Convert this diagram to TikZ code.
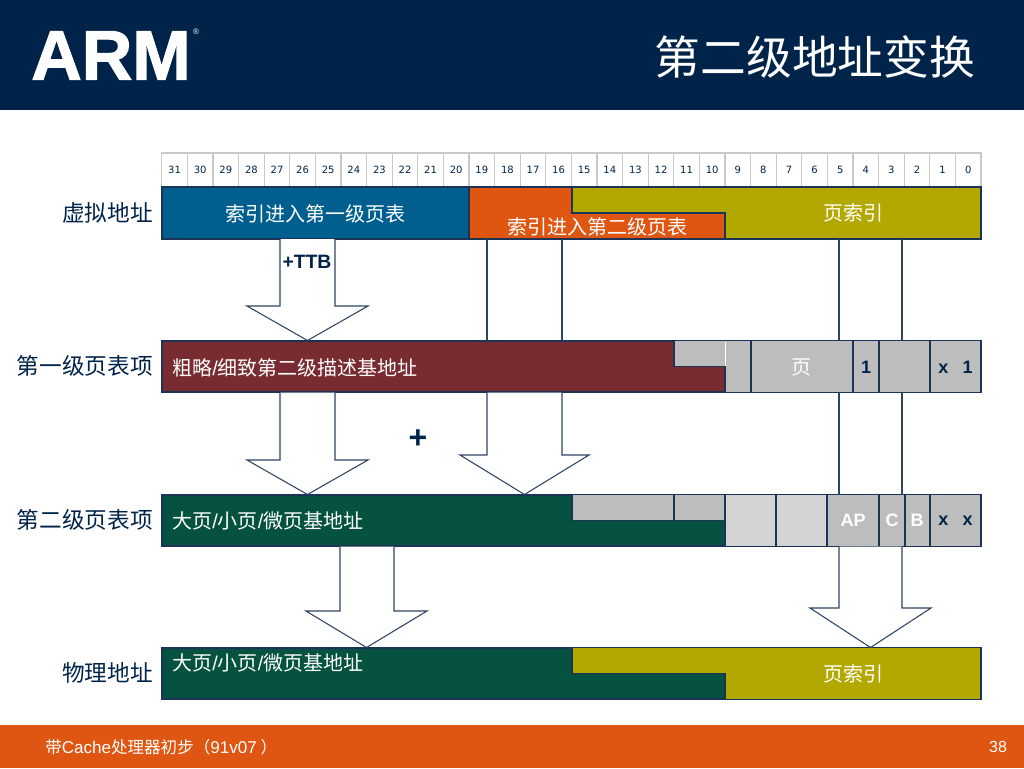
\documentclass[tikz,border=0pt]{standalone}
\usepackage{fontspec}
\setmainfont{Noto Sans CJK SC}
\newfontfamily\arialfont{Liberation Sans}
\newfontfamily\logofont[BoldFeatures={FakeBold=1.6}]{Liberation Sans}
\newfontfamily\bitfont{DejaVu Sans}
\usepackage{xcolor}
\definecolor{armnavy}{HTML}{00234A}
\definecolor{linenavy}{HTML}{1B3354}
\definecolor{thinnavy}{HTML}{2E4463}
\definecolor{armblue}{HTML}{005F8E}
\definecolor{armorange}{HTML}{DF5512}
\definecolor{armolive}{HTML}{B2A800}
\definecolor{armmaroon}{HTML}{782B30}
\definecolor{armgreen}{HTML}{04523F}
\definecolor{armgrey}{HTML}{BDBDBD}
\definecolor{armlight}{HTML}{D3D3D3}
\definecolor{cellgrey}{HTML}{C9C9C9}
\newcommand{\thinslash}{{\arialfont /}}
\tikzset{
    rowbar/.style={draw=linenavy, line width=0.9pt, minimum width=614.25pt, minimum height=39pt, inner sep=0pt, outer sep=0pt},
    fieldedge/.style={draw=linenavy, line width=0.9pt},
    fieldtext/.style={text=white, font=\fontsize{15}{17}\selectfont, inner sep=0pt},
    rowlabel/.style={text=armnavy, font=\fontsize{17}{19}\selectfont, anchor=east, inner sep=0pt},
    flagtext/.style={font=\arialfont\bfseries\fontsize{13.5}{15}\selectfont, inner sep=0pt},
    blockarrow/.style={draw=thinnavy, line width=0.8pt, fill=white, line join=miter},
}

\begin{document}
\begin{tikzpicture}[x=0.75pt, y=-0.75pt]
    \useasboundingbox (0,0) rectangle (1024,768);

    % --- HEADER AND FOOTER BANDS ---
    \fill[armnavy] (0,0) rectangle (1024,110);
    \fill[armorange] (0,725) rectangle (1024,768);
    \node[anchor=base west, inner sep=0pt, text=white, font=\logofont\bfseries\fontsize{52.5}{56}\selectfont] (logo) at (31,79.5) {ARM};
    \node[inner sep=0pt, text=white, font=\arialfont\fontsize{6}{7}\selectfont] (logomark) at (196,32) {®};
    \node[inner sep=0pt, text=white, font=\fontsize{34.3}{38}\selectfont] (title) at (815,57) {第二级地址变换};
    \node[anchor=west, inner sep=0pt, text=white, font=\fontsize{12.4}{14}\selectfont] (footer) at (45,747) {带{\arialfont\fontsize{12.8}{14}\selectfont Cache}处理器初步（{\arialfont\fontsize{12.8}{14}\selectfont 91v07} ）};
    \node[inner sep=0pt, text=white, font=\arialfont\fontsize{12}{14}\selectfont] (pageno) at (998,747) {38};

    % --- BIT NUMBER CELLS ---
    \foreach \n in {0,...,31} {
        \pgfmathsetmacro{\cellx}{981-25.6*(\n+1)}
        \draw[cellgrey, line width=0.8pt] (\cellx,153) rectangle ++(25.6,34);
        \node[inner sep=0pt, text=armnavy, font=\bitfont\fontsize{7.5}{9}\selectfont] (bit\n) at (\cellx+12.8,170) {\n};
    }

    % --- ROW BARS ---
    \node[rowbar, fill=armolive] (vaddr) at (571.5,213) {};
    \node[rowbar, fill=armgrey] (lone) at (571.5,366.5) {};
    \node[rowbar, fill=armgrey] (ltwo) at (571.5,520.5) {};
    \node[rowbar, fill=armolive] (paddr) at (571.5,673.5) {};

    % --- VIRTUAL ADDRESS FIELDS ---
    \draw[fieldedge, fill=armblue] (162,187) rectangle (469,239);
    \draw[fieldedge, fill=armorange] (469,187) -- (572,187) -- (572,213) -- (725,213) -- (725,239) -- (469,239) -- cycle;

    % --- FIRST LEVEL ENTRY FIELDS ---
    \draw[fieldedge, fill=armmaroon] (162,341) -- (674,341) -- (674,366.5) -- (725,366.5) -- (725,392) -- (162,392) -- cycle;
    \draw[white, line width=0.4pt] (725,342) -- (725,366);
    \foreach \divx in {751,853,879,930}
        \draw[fieldedge] (\divx,0 |- lone.north) -- (\divx,0 |- lone.south);

    % --- SECOND LEVEL ENTRY FIELDS ---
    \fill[armlight] (725,495) rectangle (827,546);
    \draw[fieldedge, fill=armgreen] (162,495) -- (572,495) -- (572,520.5) -- (725,520.5) -- (725,546) -- (162,546) -- cycle;
    \draw[fieldedge] (674,495) -- (674,520.5);
    \foreach \divx in {725,776,827,879,905,930}
        \draw[fieldedge] (\divx,0 |- ltwo.north) -- (\divx,0 |- ltwo.south);
    \draw[fieldedge] (ltwo.north west) rectangle (ltwo.south east);

    % --- PHYSICAL ADDRESS FIELDS ---
    \draw[fieldedge, fill=armgreen] (162,648) -- (572,648) -- (572,673.5) -- (725,673.5) -- (725,699) -- (162,699) -- cycle;

    % --- THIN CONNECTORS ---
    \foreach \linex in {487,562,839,902}
        \draw[blockarrow] (\linex,0 |- vaddr.south) -- (\linex,0 |- lone.north);
    \foreach \linex in {839,902}
        \draw[blockarrow] (\linex,0 |- lone.south) -- (\linex,0 |- ltwo.north);

    % --- BLOCK ARROWS ---
    \foreach \sl/\sr/\hl/\hr/\neck/\from/\to in {
        280/335/247/368/306/vaddr/lone,
        280/335/247/368/460/lone/ltwo,
        487/562/460/589/455/lone/ltwo,
        340/394/306/427/611/ltwo/paddr,
        839/902/810/931/608/ltwo/paddr} {
        \pgfmathsetmacro{\tipx}{(\hl+\hr)/2}
        \draw[blockarrow] (\sl,0 |- \from.south) -- (\sl,\neck) -- (\hl,\neck)
            -- (\tipx,0 |- \to.north) -- (\hr,\neck) -- (\sr,\neck) -- (\sr,0 |- \from.south);
    }

    % --- ROW LABELS ---
    \node[rowlabel] (vlabel) at (153,213) {虚拟地址};
    \node[rowlabel] (onelabel) at (153,366) {第一级页表项};
    \node[rowlabel] (twolabel) at (153,520) {第二级页表项};
    \node[rowlabel] (plabel) at (153,673) {物理地址};

    % --- FIELD TEXTS ---
    \node[fieldtext] (vindexa) at (315.5,214) {索引进入第一级页表};
    \node[fieldtext] (vindexb) at (597.5,227) {索引进入第二级页表};
    \node[fieldtext] (vpage) at (853,213) {页索引};
    \node[fieldtext, anchor=west] (onebase) at (172,368) {粗略\thinslash 细致第二级描述基地址};
    \node[fieldtext] (onepage) at (801,367) {页};
    \node[fieldtext, anchor=west] (twobase) at (172,521) {大页\thinslash 小页\thinslash 微页基地址};
    \node[fieldtext, anchor=west] (pbase) at (172,663) {大页\thinslash 小页\thinslash 微页基地址};
    \node[fieldtext] (ppage) at (853,674) {页索引};

    % --- FLAG TEXTS ---
    \node[flagtext, text=armnavy] (oneflag) at (866,367) {1};
    \node[flagtext, text=armnavy] (onelow) at (955.5,367) {x\hspace{0.8em}1};
    \node[flagtext, text=white] (apflag) at (853,520) {AP};
    \node[flagtext, text=white] (cflag) at (892,520) {C};
    \node[flagtext, text=white] (bflag) at (917,520) {B};
    \node[flagtext, text=armnavy] (twolow) at (955.5,520.5) {x\hspace{0.8em}x};

    % --- TTB AND PLUS MARKS ---
    \node[flagtext, text=armnavy, font=\arialfont\bfseries\fontsize{14.5}{16}\selectfont] (ttb) at (307,262) {+TTB};
    \node[inner sep=0pt, text=armnavy, font=\arialfont\bfseries\fontsize{24}{26}\selectfont] (plus) at (418,439.5) {+};
\end{tikzpicture}
\end{document}
